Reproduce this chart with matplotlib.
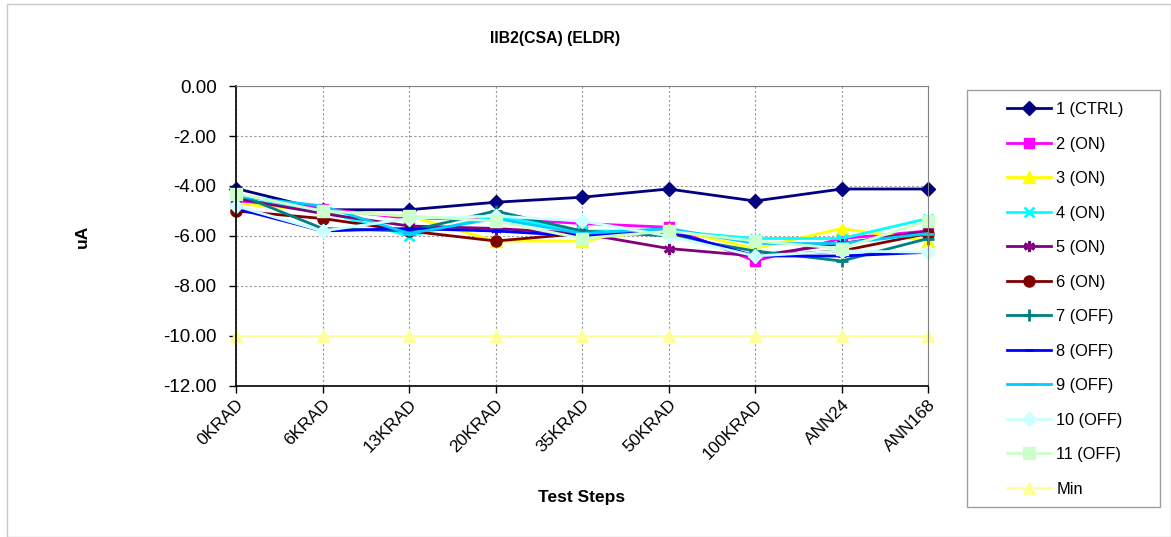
import matplotlib.pyplot as plt

plt.rcParams['font.family'] = ['Liberation Sans', 'DejaVu Sans']

steps = ['0KRAD', '6KRAD', '13KRAD', '20KRAD', '35KRAD', '50KRAD', '100KRAD', 'ANN24', 'ANN168']

s1 = [-4.10, -4.95, -4.95, -4.65, -4.45, -4.12, -4.60, -4.12, -4.12]
s2 = [-4.60, -4.90, -5.30, -5.30, -5.50, -5.65, -7.00, -6.10, -5.80]
s3 = [-4.70, -5.00, -5.20, -6.20, -6.20, -5.70, -6.50, -5.70, -6.20]
s4 = [-4.50, -5.00, -6.00, -5.20, -5.80, -5.80, -6.10, -6.10, -5.30]
s5 = [-4.50, -5.10, -5.60, -5.70, -5.90, -6.50, -6.80, -6.30, -5.80]
s6 = [-5.00, -5.30, -5.80, -6.20, -5.90, -5.90, -6.80, -6.60, -5.90]
s7 = [-4.30, -5.70, -5.80, -5.00, -5.80, -6.00, -6.60, -7.00, -6.10]
s8 = [-4.90, -5.80, -5.70, -5.80, -6.00, -5.80, -6.80, -6.80, -6.65]
s9 = [-4.40, -4.80, -5.90, -5.30, -5.90, -5.70, -6.30, -6.30, -5.90]
s10 = [-4.80, -5.80, -5.30, -5.20, -5.40, -6.00, -6.80, -6.60, -6.65]
s11 = [-4.30, -5.00, -5.20, -5.40, -6.10, -5.80, -6.20, -6.50, -5.40]
smin = [-10.0] * 9

# label, values, color, marker, marker size
series = [
    ('1 (CTRL)', s1, '#000080', 'D', 7),
    ('2 (ON)', s2, '#FF00FF', 's', 7),
    ('3 (ON)', s3, '#FFFF00', '^', 8),
    ('4 (ON)', s4, '#00FFFF', 'x', 7),
    ('5 (ON)', s5, '#800080', (6, 2, 0), 8),
    ('6 (ON)', s6, '#800000', 'o', 8),
    ('7 (OFF)', s7, '#008080', '+', 8),
    ('8 (OFF)', s8, '#0000FF', '_', 6),
    ('9 (OFF)', s9, '#00CCFF', '_', 8),
    ('10 (OFF)', s10, '#CCFFFF', 'D', 7),
    ('11 (OFF)', s11, '#CCFFCC', 's', 8),
    ('Min', smin, '#FFFF99', '^', 8),
]

fig = plt.figure(figsize=(11.71, 5.37), dpi=100)
ax = fig.add_axes([236 / 1171, 1 - 386 / 537, 692 / 1171, 300 / 537])

x = list(range(len(steps)))
for label, vals, col, mk, ms in series:
    mew = 2 if mk in ('x', '+', '_') or isinstance(mk, tuple) else 1
    ax.plot(x, vals, color=col, marker=mk, markersize=ms, lw=2,
            markerfacecolor=col, markeredgecolor=col, markeredgewidth=mew,
            label=label, clip_on=False)

ax.set_xlim(0, 8)
ax.set_ylim(-12, 0)
ax.set_yticks([0, -2, -4, -6, -8, -10, -12])
ax.set_yticklabels(['%.2f' % v for v in [0, -2, -4, -6, -8, -10, -12]], fontsize=13.5)
ax.set_xticks(x)
ax.set_xticklabels(steps, rotation=45, ha='right', rotation_mode='anchor', fontsize=12.5)
ax.grid(True, color='#999999', linestyle=(0, (2, 2)), linewidth=0.8)
ax.set_axisbelow(True)
ax.tick_params(direction='out', length=5, width=1)
ax.tick_params(axis='x', pad=3)
ax.tick_params(axis='y', pad=9)
for side in ('top', 'right'):
    ax.spines[side].set_color('#808080')
for side in ('left', 'bottom'):
    ax.spines[side].set_color('black')
    ax.spines[side].set_linewidth(1.2)

ax.set_ylabel('uA', fontsize=12.5, fontweight='bold', labelpad=53)
ax.set_xlabel('Test Steps', fontsize=12.5, fontweight='bold', labelpad=20)
fig.text(555 / 1171, 1 - 38 / 537, 'IIB2(CSA) (ELDR)', fontsize=11.3, fontweight='bold',
         ha='center', va='center')

fig.legend(loc='upper left', bbox_to_anchor=(1007 / 1171, 1 - 102 / 537),
           fontsize=11.8, frameon=False, labelspacing=1.19, handlelength=2.7,
           borderpad=0, handletextpad=0.3, borderaxespad=0)

# legend box
fig.patches.append(plt.Rectangle((967 / 1171, 1 - 507 / 537), 193 / 1171, 417 / 537,
                                 transform=fig.transFigure, fill=False,
                                 edgecolor='#a0a0a0', lw=1))
# outer chart border
fig.patches.append(plt.Rectangle((7 / 1171, 0), 1 - 7 / 1171, 1 - 4 / 537,
                                 transform=fig.transFigure, fill=False,
                                 edgecolor='#c8c8c8', lw=1))

fig.savefig('out.png', dpi=100)
